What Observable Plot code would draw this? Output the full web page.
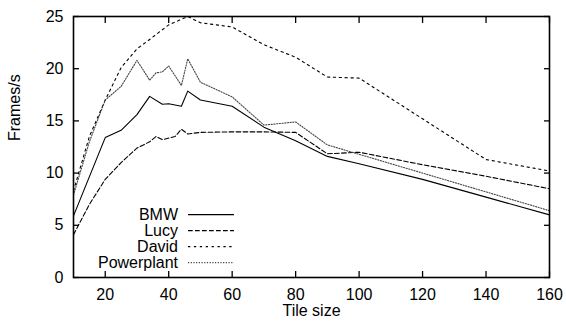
<!DOCTYPE html>
<html>
<head>
<meta charset="utf-8">
<script src="https://cdn.jsdelivr.net/npm/d3@7"></script>
<script src="https://cdn.jsdelivr.net/npm/@observablehq/plot@0.6"></script>
<style>
  html, body { margin: 0; padding: 0; background: #fff; }
  #chart { width: 566px; height: 326px; }
</style>
</head>
<body>
<div id="chart"></div>
<script>
// ---- data ----
const seriesNames = ["BMW", "Lucy", "David", "Powerplant"];

const bmwX = [10, 20, 25, 30, 34, 38, 40, 44, 46, 50, 60, 70, 80, 90, 100, 120, 140, 160];
const bmwY = [5.9, 13.4, 14.1, 15.6, 17.35, 16.6, 16.65, 16.4, 17.85, 17.0, 16.4, 14.4, 13.1, 11.6, 10.9, 9.4, 7.7, 6.0];

const lucyX = [10, 15, 20, 25, 30, 34, 36, 38, 42, 44, 46, 50, 60, 70, 80, 90, 100, 120, 140, 160];
const lucyY = [4.1, 7.0, 9.4, 11.0, 12.4, 13.0, 13.5, 13.2, 13.5, 14.2, 13.75, 13.9, 13.95, 13.95, 13.9, 11.85, 12.0, 10.8, 9.7, 8.5];

const davidX = [10, 15, 20, 25, 30, 34, 40, 46, 50, 60, 70, 80, 90, 100, 140, 160];
const davidY = [8.3, 13.5, 17.0, 20.1, 21.9, 22.8, 24.2, 25.0, 24.4, 24.0, 22.3, 21.1, 19.2, 19.1, 11.3, 10.2];

const powerX = [10, 15, 20, 25, 30, 34, 36, 38, 40, 44, 46, 50, 60, 70, 80, 90, 100, 160];
const powerY = [7.9, 13.0, 17.0, 18.3, 20.8, 18.9, 19.6, 19.7, 20.25, 18.4, 20.95, 18.7, 17.3, 14.6, 14.9, 12.7, 11.8, 6.4];

const xTicks = [20, 40, 60, 80, 100, 120, 140, 160];
const yTicks = [0, 5, 10, 15, 20, 25];
const xLabel = "Tile size";
const yLabel = "Frames/s";

// ---- build table ----
const seriesData = [
  {name: seriesNames[0], xs: bmwX, ys: bmwY},
  {name: seriesNames[1], xs: lucyX, ys: lucyY},
  {name: seriesNames[2], xs: davidX, ys: davidY},
  {name: seriesNames[3], xs: powerX, ys: powerY}
];
const rows = seriesData.flatMap(s => s.xs.map((x, i) => ({series: s.name, x, y: s.ys[i]})));

const styles = {
  BMW:        {dash: null,      width: 1.1, color: "#000"},
  Lucy:       {dash: "4.7,2.3", width: 1.1, color: "#000"},
  David:      {dash: "2.3,3.6", width: 1.1, color: "#000"},
  Powerplant: {dash: "1.2,1.5", width: 1.1, color: "#444"}
};

const FONT = "'Liberation Sans', Arial, Helvetica, sans-serif";

const lineMarks = seriesNames.map(name => Plot.line(rows.filter(r => r.series === name), {
  x: "x", y: "y",
  stroke: styles[name].color,
  strokeWidth: styles[name].width,
  strokeDasharray: styles[name].dash
}));

const chart = Plot.plot({
  width: 566,
  height: 326,
  marginLeft: 73,
  marginRight: 17,
  marginTop: 16,
  marginBottom: 49,
  style: {fontFamily: FONT, fontSize: "16px", background: "#fff", color: "#000"},
  x: {domain: [10, 160]},
  y: {domain: [0, 25]},
  marks: [
    ...lineMarks,
    // labels
    Plot.axisX(xTicks, {anchor: "bottom", tickSize: 0, tickPadding: 11, label: null, fontSize: 16}),
    Plot.axisY(yTicks, {anchor: "left", tickSize: 0, tickPadding: 10, label: null, fontSize: 16}),
    // inward ticks on all four sides
    Plot.axisX(xTicks, {anchor: "bottom", tickSize: -6, text: null, label: null, strokeWidth: 1.3}),
    Plot.axisX(xTicks, {anchor: "top", tickSize: -6, text: null, label: null, strokeWidth: 1.3}),
    Plot.axisY(yTicks, {anchor: "left", tickSize: -6, text: null, label: null, strokeWidth: 1.3}),
    Plot.axisY(yTicks, {anchor: "right", tickSize: -6, text: null, label: null, strokeWidth: 1.3}),
    Plot.frame({stroke: "#000", strokeWidth: 1.6}),
    Plot.text([xLabel], {frameAnchor: "bottom", dy: 33, lineAnchor: "middle", fontSize: 16}),
    Plot.text([yLabel], {frameAnchor: "left", dx: -59, dy: -6, rotate: -90, fontSize: 16})
  ]
});

document.getElementById("chart").appendChild(chart);

// ---- legend inside the plot area ----
const svg = d3.select(chart);
const lg = svg.append("g").attr("font-family", FONT).attr("font-size", 16);
const legTop = 214.6, legStep = 16, textRight = 178, lineX1 = 188, lineX2 = 234;
seriesNames.forEach((name, i) => {
  const y = legTop + i * legStep;
  lg.append("text").attr("x", textRight).attr("y", y).attr("dy", "0.35em")
    .attr("text-anchor", "end").attr("fill", "#000").text(name);
  lg.append("line").attr("x1", lineX1).attr("x2", lineX2).attr("y1", y).attr("y2", y)
    .attr("stroke", styles[name].color).attr("stroke-width", styles[name].width)
    .attr("stroke-dasharray", styles[name].dash);
});
</script>
</body>
</html>
